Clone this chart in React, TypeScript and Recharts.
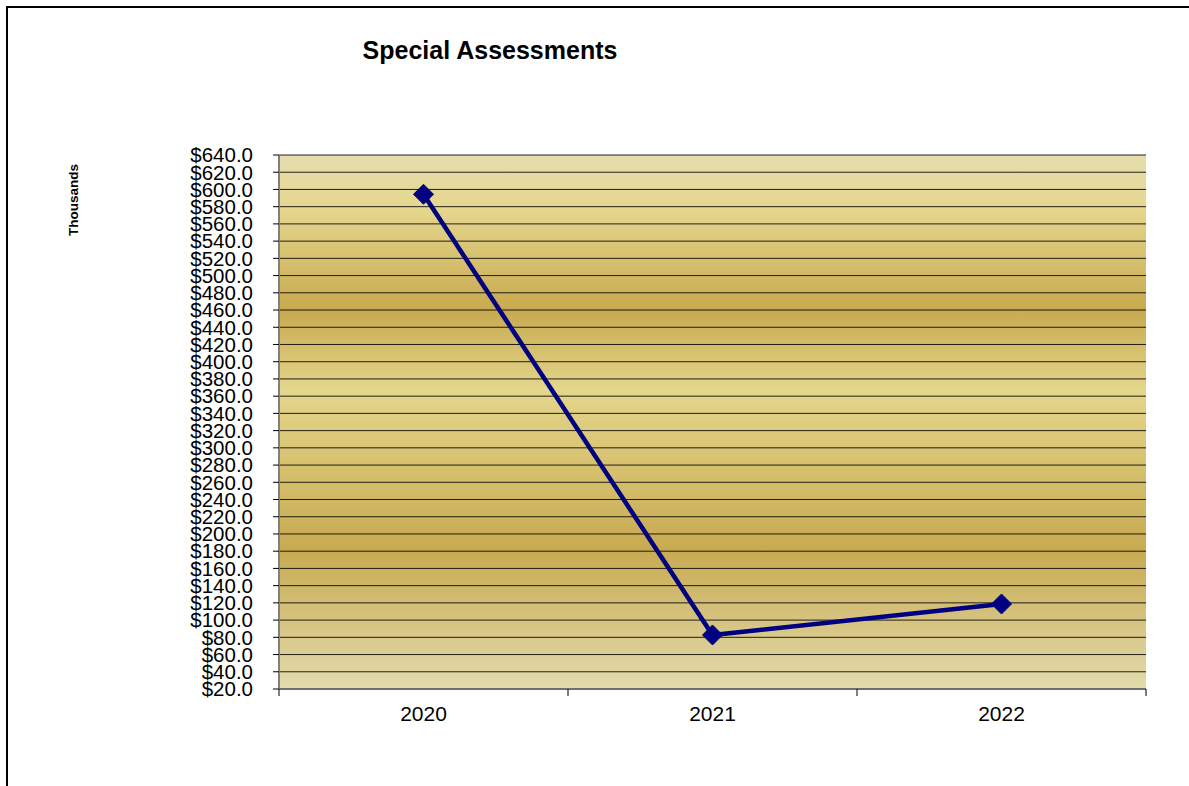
import {
  LineChart,
  Line,
  CartesianGrid,
  XAxis,
  YAxis,
} from "recharts";

const years = ["2020", "2021", "2022"];

const assessments = [594.4, 82.7, 118.7];

const yTicks = [
  20, 40, 60, 80, 100, 120, 140, 160, 180, 200, 220, 240, 260, 280, 300, 320,
  340, 360, 380, 400, 420, 440, 460, 480, 500, 520, 540, 560, 580, 600, 620, 640,
];

const W = 1189;
const H = 786;
const Y_AXIS_W = 279;
const RIGHT = 43;
const BAND = (W - Y_AXIS_W - RIGHT) / years.length;
const FONT = "'Liberation Sans', Arial, sans-serif";

const data = years.map((year, i) => ({ year, value: assessments[i] }));

function XTick(props: any) {
  const { x, y, payload, index } = props;
  const half = BAND / 2;
  return (
    <g>
      <line x1={x - half} x2={x - half} y1={y} y2={y + 7} stroke="#000" />
      {index === years.length - 1 && (
        <line x1={x + half} x2={x + half} y1={y} y2={y + 7} stroke="#000" />
      )}
      <text
        x={x}
        y={y + 32}
        textAnchor="middle"
        fontSize={21}
        fontFamily={FONT}
        fill="#000"
      >
        {payload.value}
      </text>
    </g>
  );
}

function Diamond(props: any) {
  const { cx, cy } = props;
  if (cx == null || cy == null) return null;
  const r = 10;
  return (
    <polygon
      points={`${cx},${cy - r} ${cx + r},${cy} ${cx},${cy + r} ${cx - r},${cy}`}
      fill="#000080"
      stroke="#000080"
    />
  );
}

export default function App() {
  return (
    <div
      style={{
        position: "absolute",
        left: 0,
        top: 0,
        width: W,
        height: H,
        overflow: "hidden",
        background: "#fff",
        fontFamily: FONT,
      }}
    >
      <div
        style={{
          position: "absolute",
          left: 6,
          top: 6,
          width: W,
          height: H,
          borderLeft: "2px solid #000",
          borderTop: "2px solid #000",
        }}
      />

      <div
        style={{
          position: "absolute",
          left: 290,
          width: 400,
          top: 36,
          textAlign: "center",
          fontSize: 25,
          fontWeight: "bold",
          color: "#000",
        }}
      >
        Special Assessments
      </div>

      <div
        style={{
          position: "absolute",
          left: 73,
          top: 200,
          transform: "translate(-50%, -50%) rotate(-90deg)",
          fontSize: 13.5,
          fontWeight: "bold",
          color: "#000",
          whiteSpace: "nowrap",
        }}
      >
        Thousands
      </div>

      <div style={{ position: "absolute", left: 0, top: 0 }}>
        <LineChart
          width={W}
          height={H}
          data={data}
          margin={{ top: 155, right: RIGHT, bottom: 67, left: 0 }}
        >
          <defs>
            <linearGradient id="plotBg" x1="0" y1="0" x2="0" y2="1">
              <stop offset="0%" stopColor="#e5ddb0" />
              <stop offset="10%" stopColor="#e5d78e" />
              <stop offset="29%" stopColor="#c8a94f" />
              <stop offset="44%" stopColor="#e4d68b" />
              <stop offset="74%" stopColor="#c8aa51" />
              <stop offset="100%" stopColor="#e3dcae" />
            </linearGradient>
          </defs>

          <CartesianGrid
            vertical={false}
            stroke="#000"
            strokeOpacity={0.85}
            fill="url(#plotBg)"
            fillOpacity={1}
          />

          <XAxis
            dataKey="year"
            padding={{ left: BAND / 2, right: BAND / 2 }}
            height={30}
            tickSize={0}
            tickMargin={0}
            tickLine={false}
            axisLine={{ stroke: "#6e6e6e", strokeWidth: 2 }}
            tick={<XTick />}
            interval={0}
          />

          <XAxis
            xAxisId="top"
            orientation="top"
            dataKey="year"
            height={0}
            tick={false}
            tickLine={false}
            axisLine={{ stroke: "#808080", strokeWidth: 3 }}
          />

          <YAxis
            domain={[20, 640]}
            ticks={yTicks}
            interval={0}
            width={Y_AXIS_W}
            tickSize={6}
            tickMargin={20}
            tickLine={{ stroke: "#000" }}
            axisLine={{ stroke: "#808080", strokeWidth: 2 }}
            tickFormatter={(v: number) => `$${v.toFixed(1)}`}
            tick={{ fontSize: 20.5, fontFamily: FONT, fill: "#000" }}
          />

          <YAxis
            yAxisId="right"
            orientation="right"
            width={0}
            tick={false}
            tickLine={false}
            axisLine={{ stroke: "#808080", strokeWidth: 3 }}
          />

          <Line
            dataKey="value"
            stroke="#000080"
            strokeWidth={4.5}
            dot={<Diamond />}
            activeDot={false}
            isAnimationActive={false}
          />
        </LineChart>
      </div>
    </div>
  );
}
